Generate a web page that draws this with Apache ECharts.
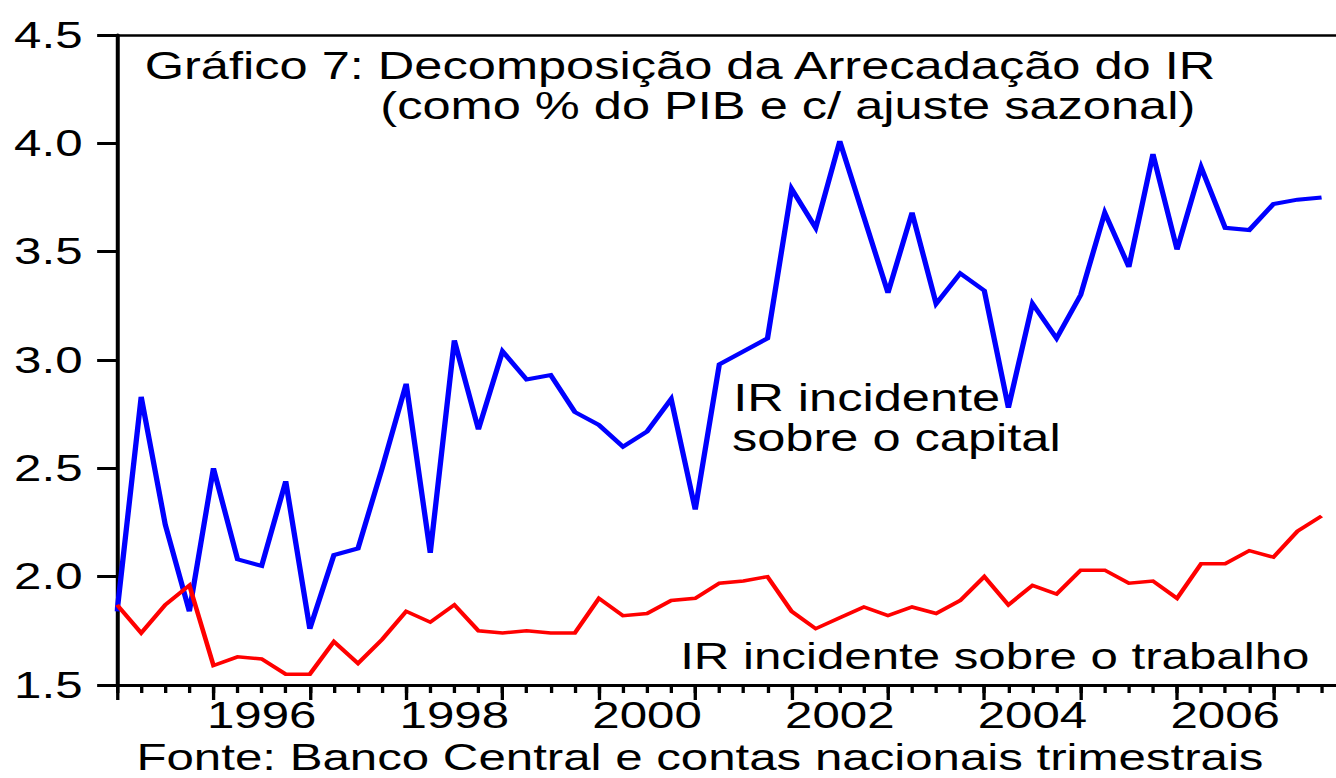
<!DOCTYPE html>
<html>
<head>
<meta charset="utf-8">
<script src="https://cdn.jsdelivr.net/npm/echarts@6/dist/echarts.min.js"></script>
<style>
  html, body { margin: 0; padding: 0; background: #fff; overflow: hidden; }
  /* the original graph is stretched sideways: draw it narrow, then widen it */
  #chart { width: 1004px; height: 778px; transform: scaleX(1.3307); transform-origin: 0 0; }
</style>
</head>
<body>
<div id="chart"></div>
<script>
  const quarters = [
    '1995Q1', '1995Q2', '1995Q3', '1995Q4', '1996Q1', '1996Q2', '1996Q3', '1996Q4',
    '1997Q1', '1997Q2', '1997Q3', '1997Q4', '1998Q1', '1998Q2', '1998Q3', '1998Q4',
    '1999Q1', '1999Q2', '1999Q3', '1999Q4', '2000Q1', '2000Q2', '2000Q3', '2000Q4',
    '2001Q1', '2001Q2', '2001Q3', '2001Q4', '2002Q1', '2002Q2', '2002Q3', '2002Q4',
    '2003Q1', '2003Q2', '2003Q3', '2003Q4', '2004Q1', '2004Q2', '2004Q3', '2004Q4',
    '2005Q1', '2005Q2', '2005Q3', '2005Q4', '2006Q1', '2006Q2', '2006Q3', '2006Q4',
    '2007Q1', '2007Q2', '2007Q3'
  ]

  // IR incidente sobre o capital (% do PIB)
  const capital = [
    1.84, 2.83, 2.24, 1.84, 2.50, 2.08, 2.05, 2.44, 1.76, 2.10,
    2.13, 2.50, 2.89, 2.11, 3.09, 2.68, 3.04, 2.91, 2.93, 2.76,
    2.70, 2.60, 2.67, 2.82, 2.31, 2.98, 3.04, 3.10, 3.79, 3.61,
    4.01, 3.66, 3.31, 3.68, 3.26, 3.40, 3.32, 2.78, 3.26, 3.10,
    3.30, 3.68, 3.43, 3.95, 3.51, 3.89, 3.61, 3.60, 3.72, 3.74,
    3.75
  ]

  // IR incidente sobre o trabalho (% do PIB)
  const trabalho = [
    1.87, 1.74, 1.87, 1.96, 1.59, 1.63, 1.62, 1.55, 1.55, 1.70,
    1.60, 1.71, 1.84, 1.79, 1.87, 1.75, 1.74, 1.75, 1.74, 1.74,
    1.90, 1.82, 1.83, 1.89, 1.90, 1.97, 1.98, 2.00, 1.84, 1.76,
    1.81, 1.86, 1.82, 1.86, 1.83, 1.89, 2.00, 1.87, 1.96, 1.92,
    2.03, 2.03, 1.97, 1.98, 1.90, 2.06, 2.06, 2.12, 2.09, 2.21,
    2.28
  ]

  const yearLabels = ['1996', '1998', '2000', '2002', '2004', '2006']

  const font = '"Liberation Sans", Arial, Helvetica, sans-serif'

  const allTicks = quarters.map((q, i) => i)
  const yearTicks = allTicks.filter(i => quarters[i].endsWith('Q1'))
  // the year label sits in the middle of its year
  const labelTicks = yearLabels.map(y => quarters.indexOf(y + 'Q3'))

  const xBase = {
    type: 'value',
    min: 0,
    max: 50.6,
    position: 'bottom',
    splitLine: { show: false },
    axisLine: { onZero: false, lineStyle: { color: '#000', width: 3 } }
  }

  function label(text, x, y, align, size) {
    return {
      type: 'text', x, y,
      style: { text, fontSize: size || 38, fontFamily: font, fill: '#000', align, verticalAlign: 'middle', lineHeight: 30 }
    }
  }

  const myChart = echarts.init(document.getElementById('chart'), null, { renderer: 'svg' })

  myChart.setOption({
    animation: false,
    backgroundColor: '#fff',
    grid: { left: 88, right: 0, top: 35, bottom: 93 },
    xAxis: [
      {
        ...xBase,
        axisTick: { customValues: allTicks, length: 8, lineStyle: { color: '#000', width: 2.5 } },
        axisLabel: { show: false }
      },
      {
        ...xBase,
        axisLine: { show: false },
        axisTick: { customValues: yearTicks, length: 15, lineStyle: { color: '#000', width: 2.5 } },
        axisLabel: {
          customValues: labelTicks,
          formatter: v => quarters[v].slice(0, 4),
          margin: 15,
          lineHeight: 30,
          color: '#000',
          fontSize: 37,
          fontFamily: font
        }
      },
      {
        // top edge of the frame
        ...xBase,
        position: 'top',
        axisLine: { onZero: false, lineStyle: { color: '#000', width: 2.5 } },
        axisTick: { show: false },
        axisLabel: { show: false }
      }
    ],
    yAxis: {
      type: 'value',
      min: 1.5,
      max: 4.5,
      interval: 0.5,
      splitLine: { show: false },
      axisLine: { show: true, lineStyle: { color: '#000', width: 3 } },
      axisTick: { show: true, length: 15, lineStyle: { color: '#000', width: 3 } },
      axisLabel: {
        formatter: v => v.toFixed(1),
        margin: 26,
        color: '#000',
        fontSize: 37,
        fontFamily: font
      }
    },
    series: [
      {
        name: 'IR incidente sobre o capital',
        type: 'line',
        xAxisIndex: 0,
        showSymbol: false,
        data: capital.map((v, i) => [i, v]),
        lineStyle: { color: '#0000ff', width: 4, join: 'miter', miterLimit: 4 }
      },
      {
        name: 'IR incidente sobre o trabalho',
        type: 'line',
        xAxisIndex: 0,
        showSymbol: false,
        data: trabalho.map((v, i) => [i, v]),
        lineStyle: { color: '#ff0000', width: 3.5, join: 'miter', miterLimit: 4 }
      }
    ],
    graphic: [
      label('Gráfico 7: Decomposição da Arrecadação do IR', 511, 66, 'center'),
      label('(como % do PIB e c/ ajuste sazonal)', 592, 106, 'center'),
      label('IR incidente', 551, 398, 'left'),
      label('sobre o capital', 550, 438, 'left'),
      label('IR incidente sobre o trabalho', 984, 656, 'right', 37),
      label('Fonte: Banco Central e contas nacionais trimestrais', 526, 757, 'center', 37)
    ]
  })
</script>
</body>
</html>
